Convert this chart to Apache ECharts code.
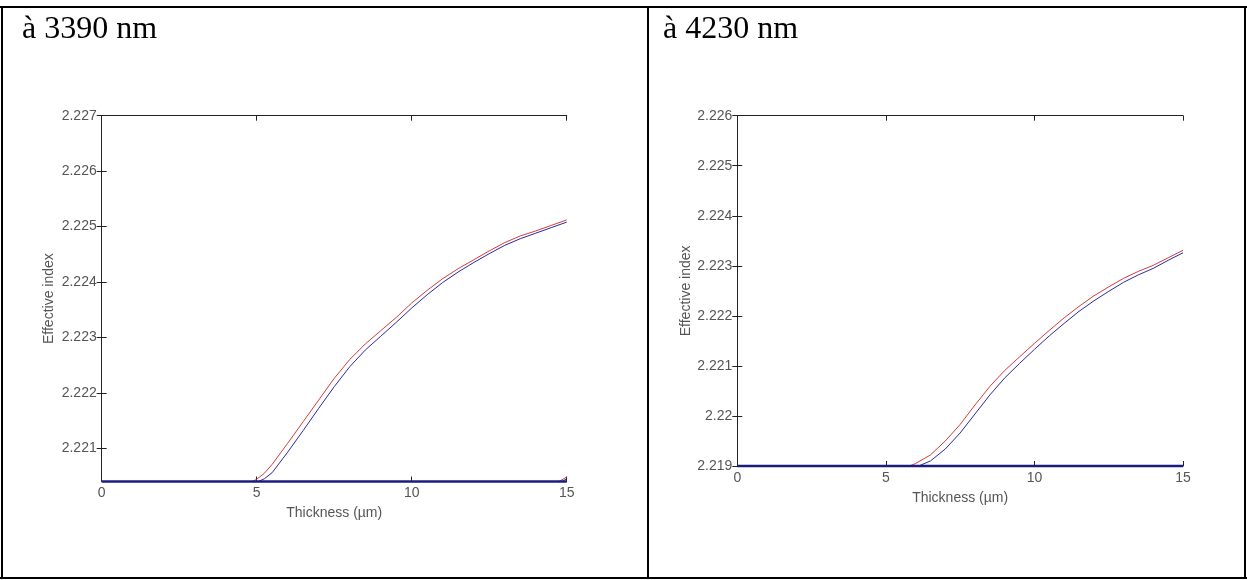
<!DOCTYPE html>
<html><head><meta charset="utf-8">
<script src="https://cdn.jsdelivr.net/npm/echarts@6/dist/echarts.min.js"></script>
<style>html,body{margin:0;padding:0;background:#fff;}#c{width:1247px;height:580px;}</style>
</head><body><div id="c"></div>
<script>
const titles = ['à 3390 nm', 'à 4230 nm'];
const xAxisName = 'Thickness (µm)';
const yAxisName = 'Effective index';
const xTicks = [0, 5, 10, 15];
const yTicksLeft = [2.221, 2.222, 2.223, 2.224, 2.225, 2.226, 2.227];
const yTicksRight = [2.219, 2.22, 2.221, 2.222, 2.223, 2.224, 2.225, 2.226];
const yRangeLeft = [2.2204, 2.227];
const yRangeRight = [2.219, 2.226];

// left panel (3390 nm)
const leftRed = [[0,2.2204],[4.85,2.2204],[5.0,2.22044],[5.25,2.22055],[5.5,2.22071],[6.0,2.22109],[6.5,2.22148],[7.0,2.22187],[7.5,2.22226],[8.0,2.2226],[8.5,2.22288],[9.0,2.22312],[9.5,2.22336],[10.0,2.22362],[10.5,2.22385],[11.0,2.22406],[11.5,2.22424],[12.0,2.2244],[12.5,2.22456],[13.0,2.22471],[13.5,2.22483],[14.0,2.22492],[14.5,2.22502],[15.0,2.22512]];
const leftBlue = [[0,2.2204],[5.05,2.2204],[5.25,2.22045],[5.5,2.22056],[6.0,2.22093],[6.5,2.22132],[7.0,2.22172],[7.5,2.22211],[8.0,2.22247],[8.5,2.22277],[9.0,2.22302],[9.5,2.22327],[10.0,2.22353],[10.5,2.22377],[11.0,2.22399],[11.5,2.22418],[12.0,2.22435],[12.5,2.22451],[13.0,2.22466],[13.5,2.22478],[14.0,2.22488],[14.5,2.22498],[15.0,2.22508]];
const leftRed2 = [[0,2.2204],[14.75,2.2204],[15.0,2.22048]];
const leftBlue2 = [[0,2.2204],[14.85,2.2204],[15.0,2.22045]];
const leftFloor = [[0,2.2204],[15,2.2204]];

// right panel (4230 nm)
const rightRed = [[0,2.219],[5.8,2.219],[6.0,2.21905],[6.5,2.21922],[7.0,2.2195],[7.5,2.21983],[8.0,2.22022],[8.5,2.22059],[9.0,2.22091],[9.5,2.22118],[10.0,2.22145],[10.5,2.22171],[11.0,2.22196],[11.5,2.22219],[12.0,2.2224],[12.5,2.22258],[13.0,2.22275],[13.5,2.22289],[14.0,2.22301],[14.5,2.22316],[15.0,2.22331]];
const rightBlue = [[0,2.219],[6.1,2.219],[6.5,2.2191],[7.0,2.21934],[7.5,2.21966],[8.0,2.22004],[8.5,2.22042],[9.0,2.22076],[9.5,2.22105],[10.0,2.22133],[10.5,2.2216],[11.0,2.22185],[11.5,2.22209],[12.0,2.2223],[12.5,2.22249],[13.0,2.22267],[13.5,2.22282],[14.0,2.22295],[14.5,2.22311],[15.0,2.22326]];
const rightFloor = [[0,2.219],[15,2.219]];

const chart = echarts.init(document.getElementById('c'), null, {renderer:'canvas'});
const fmt = v => String(Number(Number(v).toFixed(3)));
const labelFont = {fontFamily:'Liberation Sans, Arial, sans-serif', fontSize:14, color:'#555'};
const nameFont = {fontFamily:'Liberation Sans, Arial, sans-serif', fontSize:14, color:'#555'};
const axLine = {lineStyle:{color:'#222', width:1}};

function xAx(gi, pos, show) {
  return {type:'value', gridIndex:gi, position:pos, min:0, max:15, interval:5,
    axisLine:axLine, splitLine:{show:false},
    axisTick:{show:true, inside:true, length:5, lineStyle:{color:'#222'}},
    axisLabel:{show:show, margin:5, ...labelFont},
    name: show ? xAxisName : '', nameLocation:'middle', nameGap:25,
    nameTextStyle:{...nameFont}};
}
function yAx(gi, pos, show, range, ticks, gap) {
  return {type:'value', gridIndex:gi, position:pos, min:range[0], max:range[1],
    axisLine:axLine, splitLine:{show:false},
    axisTick:{show:true, inside:false, length:-5, customValues:ticks, lineStyle:{color:'#222'}},
    axisLabel:{show:show, margin:5, customValues:ticks, formatter:fmt, ...labelFont},
    name: show ? yAxisName : '', nameLocation:'middle', nameGap:gap, nameRotate:90,
    nameTextStyle:{...nameFont}};
}
function ser(data, color, width, xi, yi, clip) {
  return {type:'line', data:data, xAxisIndex:xi, yAxisIndex:yi, showSymbol:false, symbol:'none',
    lineStyle:{color:color, width:width}, clip:clip, silent:true, animation:false, z:clip?3:4};
}
const RED = '#d43c3c', BLUE = '#2a2aa0', NAVY = '#1c1c80';

const option = {
  animation:false,
  backgroundColor:'#fff',
  grid:[
    {left:101.7, top:115.7, width:465, height:365.8},
    {left:737.3, top:115.7, width:445.7, height:350.3}
  ],
  xAxis:[xAx(0,'bottom',true), xAx(0,'top',false), xAx(1,'bottom',true), xAx(1,'top',false)],
  yAxis:[yAx(0,'left',true,yRangeLeft,yTicksLeft,46), yAx(0,'right',false,yRangeLeft,yTicksLeft,0),
         yAx(1,'left',true,yRangeRight,yTicksRight,44), yAx(1,'right',false,yRangeRight,yTicksRight,0)],
  series:[
    ser(leftRed, RED, 1, 0, 0, true),
    ser(leftBlue, BLUE, 1, 0, 0, true),
    ser(leftRed2, RED, 1, 0, 0, true),
    ser(leftBlue2, BLUE, 1, 0, 0, true),
    ser(leftFloor, NAVY, 2.5, 0, 0, false),
    ser(rightRed, RED, 1, 2, 2, true),
    ser(rightBlue, BLUE, 1, 2, 2, true),
    ser(rightFloor, NAVY, 2.5, 2, 2, false)
  ],
  graphic:[
    {type:'rect', shape:{x:0, y:6, width:1247, height:2}, style:{fill:'#000'}, silent:true},
    {type:'rect', shape:{x:0, y:577, width:1247, height:2}, style:{fill:'#000'}, silent:true},
    {type:'rect', shape:{x:1, y:6, width:2, height:573}, style:{fill:'#000'}, silent:true},
    {type:'rect', shape:{x:647, y:6, width:2, height:573}, style:{fill:'#000'}, silent:true},
    {type:'rect', shape:{x:1244, y:6, width:2, height:573}, style:{fill:'#000'}, silent:true},
    {type:'text', left:22, top:14, style:{text:titles[0], font:'32px "Liberation Serif", "Times New Roman", serif', fill:'#000'}},
    {type:'text', left:663, top:14, style:{text:titles[1], font:'32px "Liberation Serif", "Times New Roman", serif', fill:'#000'}}
  ]
};
chart.setOption(option);
</script></body></html>
